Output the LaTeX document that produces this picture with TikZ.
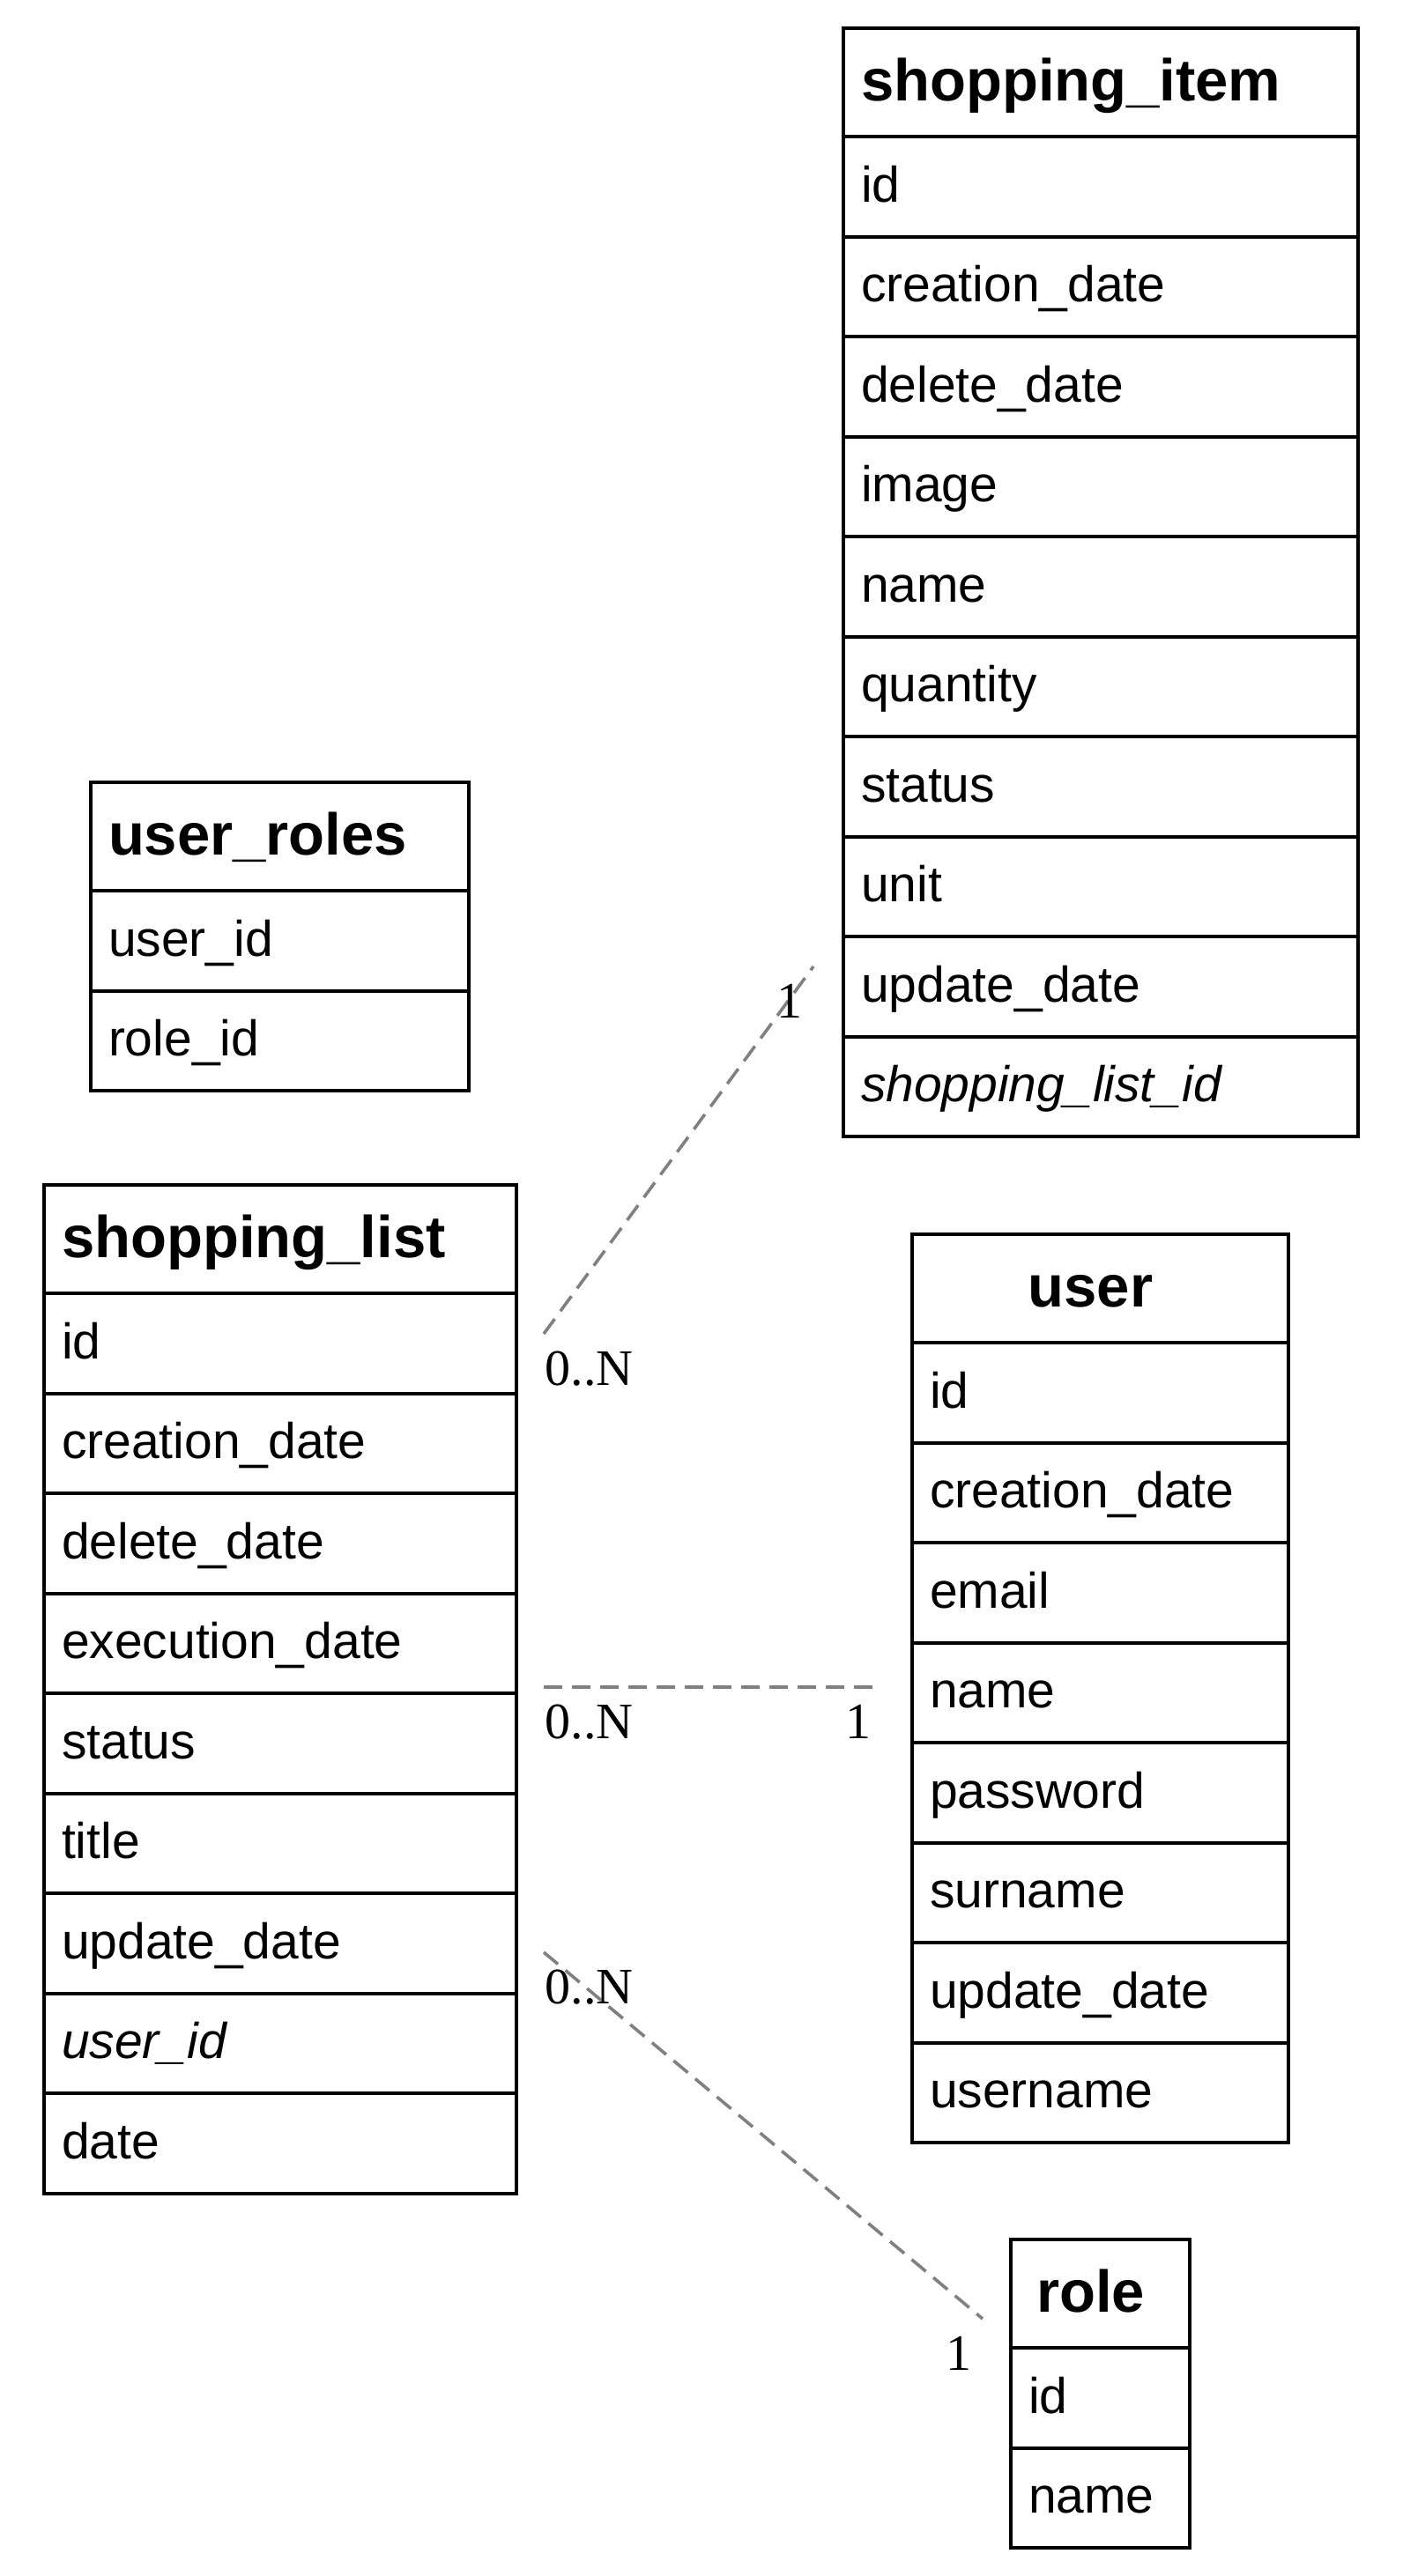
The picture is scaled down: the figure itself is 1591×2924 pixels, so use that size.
\documentclass[tikz,border=0pt]{standalone}
\usepackage{fontspec}
\setmainfont{Liberation Sans}
\newfontfamily\multfont{Liberation Serif}
\usetikzlibrary{positioning}

\tikzset{
    tbl/.style={draw, line width=4pt, inner ysep=0pt, inner xsep=20pt, outer sep=0pt},
    hdr/.style={tbl, minimum height=123pt, text width=#1, align=left,
        text height=48pt, text depth=7pt, font=\fontsize{67}{80}\selectfont\bfseries},
    fld/.style={tbl, minimum height=113.5pt, text width=#1, align=left,
        text height=41pt, text depth=6pt, font=\fontsize{57}{68}\selectfont},
    conn/.style={draw=gray, line width=3.6pt, dash pattern=on 21pt off 11pt},
    mult/.style={inner sep=0pt, font=\fontsize{58}{70}\multfont},
    manyend/.style={mult, anchor=north west, yshift=-18pt},
    oneend/.style={mult, anchor=north east, xshift=-11pt, yshift=-18pt}
}

\begin{document}
\begin{tikzpicture}[x=1pt, y=1pt]
    \useasboundingbox (0,0) rectangle (1591,-2924);

    % ===== shopping_item =====
    \node[hdr=544pt, anchor=north west] (si0) at (957,-32) {shopping\_item};
    \node[fld=544pt, below=0pt of si0] (si1) {id};
    \node[fld=544pt, below=0pt of si1] (si2) {creation\_date};
    \node[fld=544pt, below=0pt of si2] (si3) {delete\_date};
    \node[fld=544pt, below=0pt of si3] (si4) {image};
    \node[fld=544pt, below=0pt of si4] (si5) {name};
    \node[fld=544pt, below=0pt of si5] (si6) {quantity};
    \node[fld=544pt, below=0pt of si6] (si7) {status};
    \node[fld=544pt, below=0pt of si7] (si8) {unit};
    \node[fld=544pt, below=0pt of si8] (si9) {update\_date};
    \node[fld=544pt, below=0pt of si9] (si10) {\itshape shopping\_list\_id};

    % ===== user_roles =====
    \node[hdr=389pt, anchor=north west] (ur0) at (103,-888) {user\_roles};
    \node[fld=389pt, below=0pt of ur0] (ur1) {user\_id};
    \node[fld=389pt, below=0pt of ur1] (ur2) {role\_id};

    % ===== shopping_list =====
    \node[hdr=496pt, anchor=north west] (sl0) at (50,-1345) {shopping\_list};
    \node[fld=496pt, below=0pt of sl0] (sl1) {id};
    \node[fld=496pt, below=0pt of sl1] (sl2) {creation\_date};
    \node[fld=496pt, below=0pt of sl2] (sl3) {delete\_date};
    \node[fld=496pt, below=0pt of sl3] (sl4) {execution\_date};
    \node[fld=496pt, below=0pt of sl4] (sl5) {status};
    \node[fld=496pt, below=0pt of sl5] (sl6) {title};
    \node[fld=496pt, below=0pt of sl6] (sl7) {update\_date};
    \node[fld=496pt, below=0pt of sl7] (sl8) {\itshape user\_id};
    \node[fld=496pt, below=0pt of sl8] (sl9) {date};

    % ===== user =====
    \node[hdr=387pt, anchor=north west, align=center] (us0) at (1035,-1401) {user\kern22pt};
    \node[fld=387pt, below=0pt of us0] (us1) {id};
    \node[fld=387pt, below=0pt of us1] (us2) {creation\_date};
    \node[fld=387pt, below=0pt of us2] (us3) {email};
    \node[fld=387pt, below=0pt of us3] (us4) {name};
    \node[fld=387pt, below=0pt of us4] (us5) {password};
    \node[fld=387pt, below=0pt of us5] (us6) {surname};
    \node[fld=387pt, below=0pt of us6] (us7) {update\_date};
    \node[fld=387pt, below=0pt of us7] (us8) {username};

    % ===== role =====
    \node[hdr=163pt, anchor=north west, align=center] (ro0) at (1147,-2542) {role\kern22pt};
    \node[fld=163pt, below=0pt of ro0] (ro1) {id};
    \node[fld=163pt, below=0pt of ro1] (ro2) {name};

    % Free ends of the relations
    \coordinate (sl-to-si) at (617,-1514);
    \coordinate (si-end) at (923,-1097);
    \coordinate (sl-to-us) at (617,-1915);
    \coordinate (us-end) at (1001,-1915);
    \coordinate (sl-to-ro) at (617,-2216);
    \coordinate (ro-end) at (1115,-2632);

    % Relations with multiplicities
    \draw[conn] (sl-to-si) -- (si-end)
        node[manyend, pos=0] (m-si-n) {0..N}
        node[oneend, pos=1] (m-si-1) {1};
    \draw[conn] (sl-to-us) -- (us-end)
        node[manyend, pos=0] (m-us-n) {0..N}
        node[oneend, pos=1] (m-us-1) {1};
    \draw[conn] (sl-to-ro) -- (ro-end)
        node[manyend, pos=0] (m-ro-n) {0..N}
        node[oneend, pos=1] (m-ro-1) {1};
\end{tikzpicture}
\end{document}
